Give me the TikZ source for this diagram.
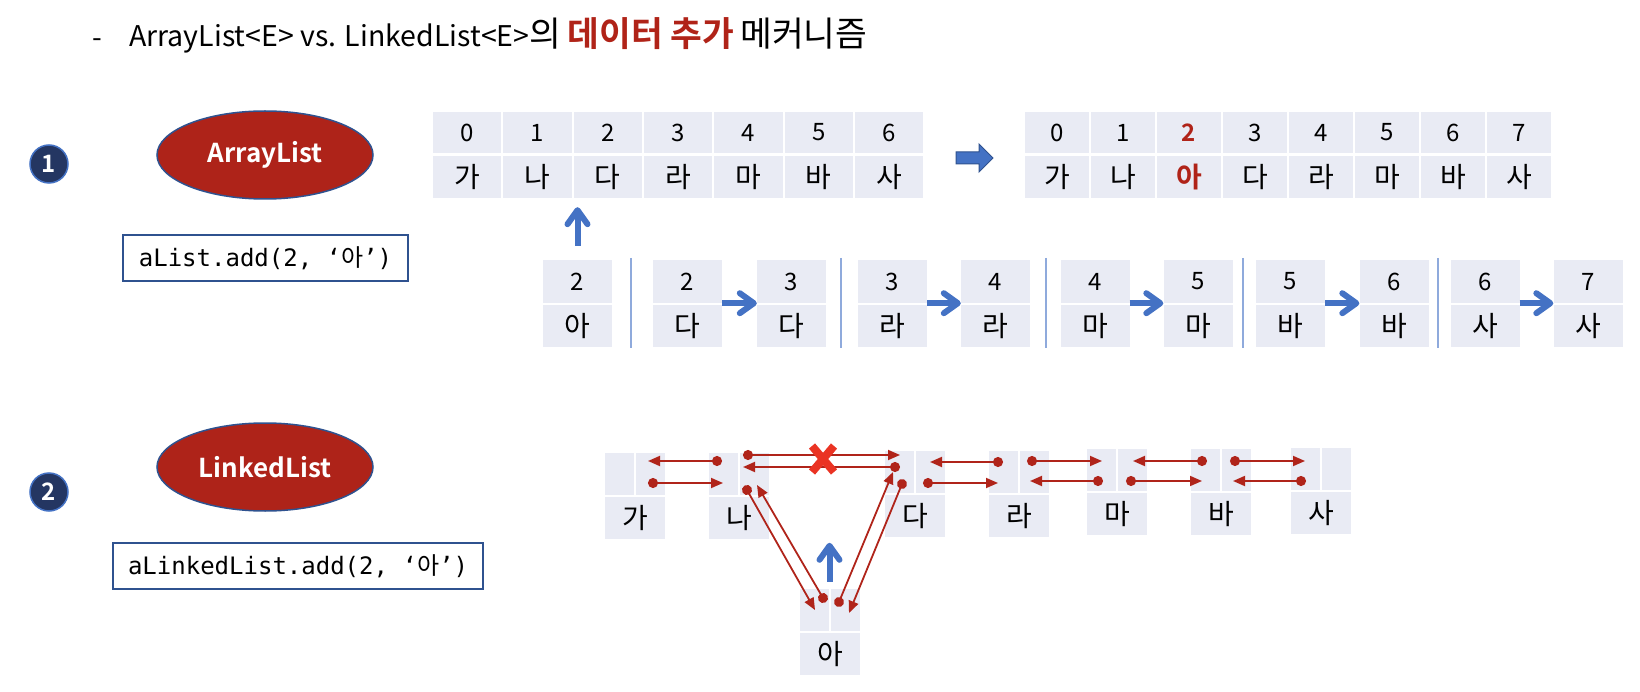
\documentclass[tikz,border=0pt]{standalone}
\usepackage{fontspec}
\setmainfont{Noto Sans CJK KR}[BoldFont={Noto Sans CJK KR Bold}]
\newfontfamily\monof{DejaVu Sans Mono}
\newfontfamily\krf{Noto Sans CJK KR}[BoldFont={Noto Sans CJK KR Bold}]
\usetikzlibrary{arrows.meta,calc,shapes.geometric}
\definecolor{cellfill}{RGB}{233,235,244}
\definecolor{blueC}{RGB}{68,114,196}
\definecolor{blueDark}{RGB}{47,82,143}
\definecolor{sepC}{RGB}{143,170,220}
\definecolor{redptr}{RGB}{176,36,26}
\definecolor{ellred}{RGB}{174,35,25}
\definecolor{tred}{RGB}{176,35,24}
\definecolor{xred}{RGB}{234,51,35}
\definecolor{navy}{RGB}{36,54,98}
\newcommand{\tk}[1]{{\fontsize{34.5}{36}\selectfont #1}}
\newcommand{\llnode}[4]{%
  \node[cell, minimum width=29pt, minimum height=42pt] (#1L) at ({#2+14.5},{#3+21}) {};
  \node[cell, minimum width=29pt, minimum height=42pt] (#1R) at ({#2+45.5},{#3+21}) {};
  \node[cellk, minimum width=60pt, minimum height=42pt] (#1D) at ({#2+30},{#3+65}) {#4};
}
\begin{document}
\begin{tikzpicture}[x=1pt,y=-1pt,
  cell/.style={fill=cellfill, inner sep=0pt, text=black, font=\fontsize{24}{26}\selectfont},
  cellk/.style={cell, font=\fontsize{28}{30}\selectfont},
  bluearrow/.style={draw=blueC, line width=6pt, -{Straight Barb[length=14pt,width=20pt,round]}},
  redarrow/.style={draw=redptr, line width=1.8pt, shorten <=-5pt,
     {Circle[length=10pt]}-{Triangle[length=12pt,width=10pt]}},
  sepline/.style={draw=sepC, line width=1.8pt},
  numcircle/.style={circle, fill=navy, draw=blueC, line width=1.5pt, minimum size=38pt, inner sep=0pt,
     text=white, font=\fontsize{24}{28}\selectfont\bfseries},
  ellnode/.style={ellipse, fill=ellred, draw=blueDark, line width=1.5pt, minimum width=216pt, minimum height=88pt,
     inner sep=0pt, text=white, font=\fontsize{26}{30}\selectfont\bfseries},
  codebox/.style={draw=blueDark, line width=2.5pt, fill=white, minimum height=46pt, inner sep=0pt,
     font=\fontsize{24}{28}\monof}
]
\useasboundingbox (0,0) rectangle (1640,692);

% title
\node[font=\fontsize{28}{30}\selectfont] (dash) at (97,43) {-};
\node[anchor=west, font=\fontsize{28.5}{32}\selectfont, inner sep=0pt] (title) at (129,35)
  {ArrayList<E> vs. LinkedList<E>\tk{의} \tk{{\bfseries\color{tred}데이터 추가}} \tk{메커니즘}};

% section 1
\node[numcircle] (n1) at (49,164) {1};
\node[ellnode] (e1) at (265,155) {ArrayList};
\node[codebox, minimum width=285pt] (c1) at (265.5,258) {aList.add(2, ‘{\krf 아}’)};

\foreach \i/\k in {0/가,1/나,2/다,3/라,4/마,5/바,6/사}{
  \node[cell, minimum width=68.3pt, minimum height=41pt] (a\i t) at ({467.15+70.3*\i},132.5) {\i};
  \node[cellk, minimum width=68.3pt, minimum height=42pt] (a\i b) at ({467.15+70.3*\i},177) {\k};
}
\foreach \i/\n/\k in {0/0/가,1/1/나,2/{\bfseries\color{tred}2}/{\bfseries\color{tred}아},3/3/다,4/4/라,5/5/마,6/6/바,7/7/사}{
  \node[cell, minimum width=64pt, minimum height=41pt] (b\i t) at ({1057+66*\i},132.5) {\n};
  \node[cellk, minimum width=64pt, minimum height=42pt] (b\i b) at ({1057+66*\i},177) {\k};
}
\draw[fill=blueC, draw=blueDark, line width=1pt] (956,152) -- (979,152) -- (979,144) -- (993,158)
  -- (979,172) -- (979,164) -- (956,164) -- cycle;

\foreach \i/\x/\n/\k in {1/577.5/2/아,2/687.5/2/다,3/791.5/3/다,4/892.5/3/라,5/995.5/4/라,6/1095/4/마,
    7/1198/5/마,8/1290.5/5/바,9/1394/6/바,10/1485/6/사,11/1588/7/사}{
  \node[cell, minimum width=69pt, minimum height=43pt] (s\i t) at (\x,281.5) {\n};
  \node[cellk, minimum width=69pt, minimum height=42pt] (s\i b) at (\x,326) {\k};
}
\draw[bluearrow] ([yshift=14pt]s1t.north) -- ([yshift=-9pt]s1t.north |- a1b.south);
\draw[bluearrow] (s2t.south east) -- (s3t.south west);
\draw[bluearrow] (s4t.south east) -- (s5t.south west);
\draw[bluearrow] (s6t.south east) -- (s7t.south west);
\draw[bluearrow] (s8t.south east) -- (s9t.south west);
\draw[bluearrow] (s10t.south east) -- (s11t.south west);
\foreach \x in {631,841,1046,1243,1438}{
  \draw[sepline] (\x,258) -- (\x,348);
}

% section 2
\node[numcircle] (n2) at (49,492) {2};
\node[ellnode] (e2) at (265,467) {LinkedList};
\node[codebox, minimum width=370pt] (c2) at (298,566) {aLinkedList.add(2, ‘{\krf 아}’)};

\llnode{ga}{605}{453}{가}
\llnode{na}{709}{453}{나}
\llnode{da}{885}{451}{다}
\llnode{ra}{989}{451}{라}
\llnode{ma}{1087}{449}{마}
\llnode{ba}{1191}{449}{바}
\llnode{sa}{1291}{448}{사}
\llnode{ah}{800}{589}{아}

\draw[redarrow] ([shift={(-6.5,-13)}]naL.center) -- ([shift={(-2.5,-13)}]gaR.center);
\draw[redarrow] ([shift={(2.5,9)}]gaR.center) -- ([shift={(-0.5,9)}]naL.center);
\draw[redarrow] ([shift={(-6.5,-19)}]naR.center) -- ([shift={(0.5,-17)}]daL.center);
\draw[redarrow] ([shift={(-4.5,-5)}]daL.center) -- ([shift={(-11.5,-7)}]naR.center);
\draw[redarrow] ([shift={(-7.5,16)}]naR.center) -- ([shift={(0.5,0)}]ahL.center);
\draw[redarrow] ([shift={(8.5,-12)}]ahL.center) -- ([shift={(2.5,11)}]naR.center);
\draw[redarrow] ([shift={(-6.5,-8)}]ahR.center) -- ([shift={(-6.5,0)}]daL.center);
\draw[redarrow] ([shift={(2.5,12)}]daL.center) -- ([shift={(3.5,3)}]ahR.center);
\draw[redarrow] ([shift={(-5.5,-10)}]raL.center) -- ([shift={(-0.5,-10)}]daR.center);
\draw[redarrow] ([shift={(-2.5,11)}]daR.center) -- ([shift={(-5.5,11)}]raL.center);
\draw[redarrow] ([shift={(-2.5,-11)}]raR.center) -- ([shift={(0.5,-9)}]maL.center);
\draw[redarrow] ([shift={(-3.5,11)}]maL.center) -- ([shift={(-4.5,9)}]raR.center);
\draw[redarrow] ([shift={(-1.5,11)}]maR.center) -- ([shift={(-3.5,11)}]baL.center);
\draw[redarrow] ([shift={(-3.5,-9)}]baL.center) -- ([shift={(0.5,-9)}]maR.center);
\draw[redarrow] ([shift={(-1.5,-9)}]baR.center) -- ([shift={(-0.5,-8)}]saL.center);
\draw[redarrow] ([shift={(-4.5,12)}]saL.center) -- ([shift={(-3.5,11)}]baR.center);

% cross
\coordinate (xc) at (823,459);
\draw[draw=xred, line width=8pt] ([shift={(-11,-13)}]xc) -- ([shift={(11,13)}]xc);
\draw[draw=xred, line width=8pt] ([shift={(11,-13)}]xc) -- ([shift={(-11,13)}]xc);

\draw[bluearrow] ([shift={(15,-7)}]ahL.north) -- ([shift={(15,-46)}]ahL.north);
\end{tikzpicture}
\end{document}
